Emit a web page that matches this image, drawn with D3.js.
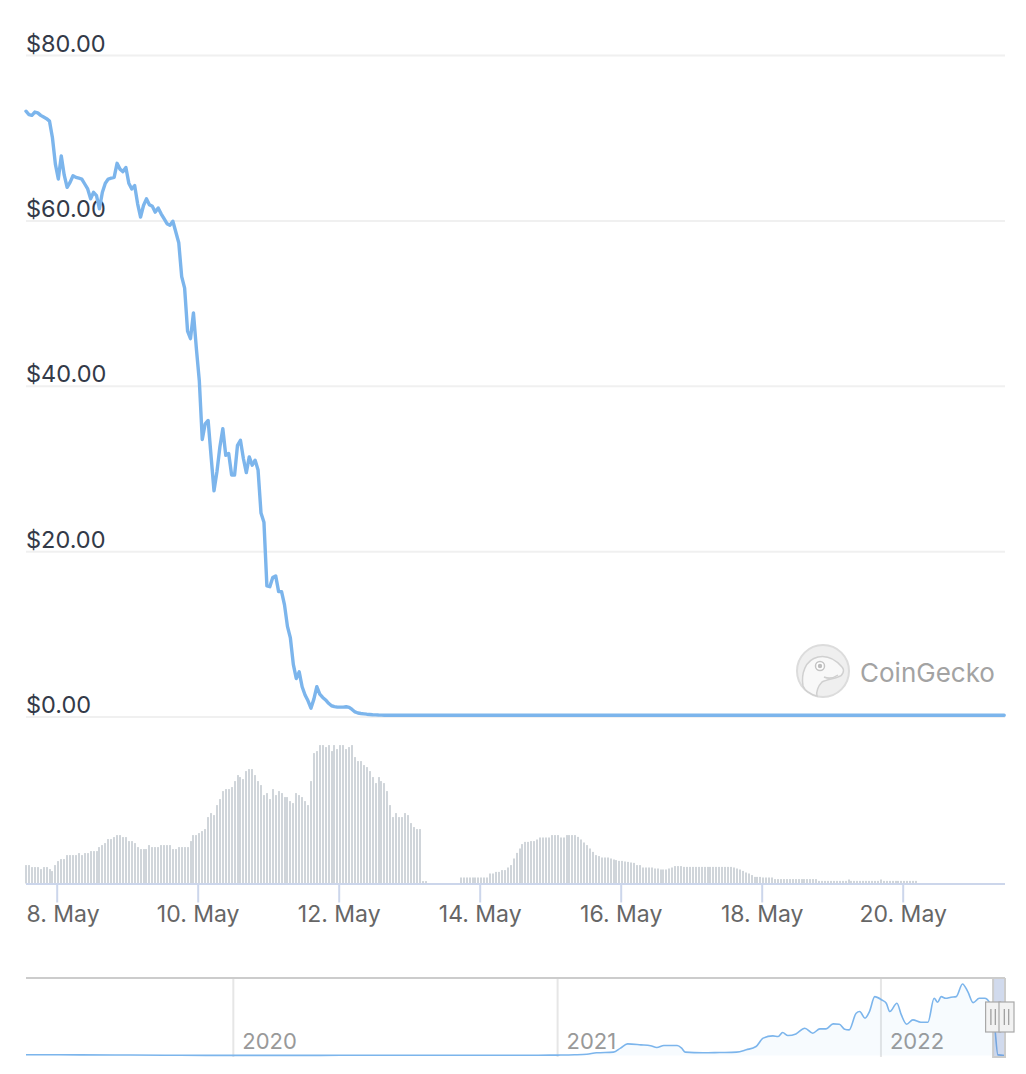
<!DOCTYPE html>
<html><head><meta charset="utf-8">
<script src="https://cdn.jsdelivr.net/npm/d3@7"></script>
<style>
html,body{margin:0;padding:0;background:#fff;}
svg{display:block;font-family:Inter,"Noto Sans",sans-serif;}
</style></head><body>
<svg id="c" width="1026" height="1074"></svg>
<script>
// ---------- DATA ----------
const startTime = "2022-05-07T13:33:00Z"; // first hourly point
const priceUSD = [
73.2,72.8,72.7,73.1,73.0,72.7,72.5,72.3,72.0,70.0,
66.8,65.0,67.8,65.5,64.0,64.6,65.4,65.2,65.1,65.0,
64.4,63.8,62.6,63.4,63.0,61.4,63.4,64.5,65.0,65.1,
65.2,66.9,66.2,65.9,66.4,64.5,63.8,64.2,62.0,60.4,
61.8,62.6,61.9,61.7,61.0,61.5,60.8,60.2,59.6,59.4,
59.9,58.6,57.3,53.2,51.8,46.6,45.7,48.8,44.5,40.6,
33.5,35.4,35.8,31.5,27.3,29.6,32.6,34.8,31.6,31.8,
29.2,29.2,32.8,33.4,31.2,29.5,31.4,30.4,31.0,29.8,
24.6,23.5,15.8,15.7,16.8,17.0,15.1,15.1,13.5,10.9,
9.5,6.3,4.6,5.4,3.6,2.6,1.9,1.0,2.1,3.6,
2.7,2.3,2.0,1.6,1.3,1.2,1.13,1.13,1.13,1.18,
1.1,0.85,0.55,0.42,0.36,0.32,0.28,0.25,0.22,0.2,
0.18,0.17,0.16,0.15,0.15,0.15,0.15,0.15,0.15,0.15,
0.15,0.15,0.15,0.15,0.15,0.15,0.15,0.15,0.15,0.15,
0.15,0.15,0.15,0.15,0.15,0.15,0.15,0.15,0.15,0.15,
0.15,0.15,0.15,0.15,0.15,0.15,0.15,0.15,0.15,0.15,
0.15,0.15,0.15,0.15,0.15,0.15,0.15,0.15,0.15,0.15,
0.15,0.15,0.15,0.15,0.15,0.15,0.15,0.15,0.15,0.15,
0.15,0.15,0.15,0.15,0.15,0.15,0.15,0.15,0.15,0.15,
0.15,0.15,0.15,0.15,0.15,0.15,0.15,0.15,0.15,0.15,
0.15,0.15,0.15,0.15,0.15,0.15,0.15,0.15,0.15,0.15,
0.15,0.15,0.15,0.15,0.15,0.15,0.15,0.15,0.15,0.15,
0.15,0.15,0.15,0.15,0.15,0.15,0.15,0.15,0.15,0.15,
0.15,0.15,0.15,0.15,0.15,0.15,0.15,0.15,0.15,0.15,
0.15,0.15,0.15,0.15,0.15,0.15,0.15,0.15,0.15,0.15,
0.15,0.15,0.15,0.15,0.15,0.15,0.15,0.15,0.15,0.15,
0.15,0.15,0.15,0.15,0.15,0.15,0.15,0.15,0.15,0.15,
0.15,0.15,0.15,0.15,0.15,0.15,0.15,0.15,0.15,0.15,
0.15,0.15,0.15,0.15,0.15,0.15,0.15,0.15,0.15,0.15,
0.15,0.15,0.15,0.15,0.15,0.15,0.15,0.15,0.15,0.15,
0.15,0.15,0.15,0.15,0.15,0.15,0.15,0.15,0.15,0.15,
0.15,0.15,0.15,0.15,0.15,0.15,0.15,0.15,0.15,0.15,
0.15,0.15,0.15,0.15,0.15,0.15,0.15,0.15,0.15,0.15,
0.15,0.15,0.15,0.15
];
// 24h volume, billions USD (hourly)
const volumeBUSD = [
0.92,0.92,0.82,0.82,0.82,0.72,0.82,0.82,0.72,0.62,
0.92,1.12,1.22,1.22,1.42,1.42,1.42,1.42,1.52,1.42,
1.52,1.52,1.62,1.62,1.62,1.82,1.92,2.02,2.22,2.22,
2.32,2.42,2.42,2.32,2.32,2.12,2.12,2.02,1.82,1.72,
1.72,1.72,1.92,1.82,1.82,1.82,1.92,1.92,1.92,1.92,
1.72,1.72,1.82,1.82,1.82,1.82,2.12,2.42,2.42,2.52,
2.62,2.72,3.32,3.52,3.42,3.92,4.22,
4.62,4.72,4.72,4.82,5.12,5.42,5.32,5.22,5.62,5.72,
5.72,5.42,5.12,4.92,4.42,4.52,4.22,4.72,4.42,4.62,
4.52,4.32,4.32,4.12,4.02,4.52,4.42,4.32,4.12,3.92,
5.12,6.52,6.62,6.92,6.92,6.82,6.92,6.62,6.92,6.72,
6.92,6.92,6.72,6.82,6.92,6.32,6.12,6.12,5.92,5.82,5.62,5.32,
5.02,5.32,5.12,5.02,4.62,3.92,3.32,3.52,3.32,3.32,
3.52,3.42,3.02,2.82,2.72,2.72,0.12,0.12,
0,0,0,0,0,0,0,0,0,0,0,
0.3,0.3,0.3,0.3,0.3,0.3,0.3,0.3,0.3,0.3,
0.5,0.5,0.58,0.58,0.67,0.67,
0.8,0.92,1.25,1.53,1.75,1.97,2.08,2.08,
2.12,2.12,2.2,2.3,2.3,2.3,2.3,
2.42,2.42,2.42,2.3,2.3,2.42,2.42,2.42,2.42,2.33,
2.2,2.05,1.92,1.75,1.58,1.42,1.37,
1.3,1.3,1.3,1.25,1.2,1.17,
1.13,1.13,1.1,1.08,1.05,1.03,0.92,0.92,
0.8,0.8,0.8,0.8,0.75,0.75,0.7,0.7,0.7,0.75,0.8,0.87,0.87,0.87,
0.83,0.83,0.83,0.83,0.83,0.83,0.83,0.83,0.83,0.83,0.83,0.83,0.83,0.83,0.83,0.83,0.83,
0.8,0.75,
0.7,0.63,0.55,0.5,0.42,
0.33,0.33,0.33,0.3,0.3,0.3,0.3,
0.22,0.22,0.22,0.22,0.22,0.22,0.22,0.22,0.22,0.22,0.22,0.22,0.22,0.22,0.22,
0.13,0.13,0.13,0.13,0.13,0.13,0.13,0.13,0.13,0.13,0.2,0.13,0.13,0.13,0.13,0.13,0.13,
0.13,0.13,0.13,0.13,0.2,0.13,0.13,0.13,0.13,0.13,0.13,0.13,0.13,0.13,0.13,0.13,0.13
];
const priceTicks = [0, 20, 40, 60, 80];
const dateTicks = ["2022-05-08","2022-05-10","2022-05-12","2022-05-14","2022-05-16","2022-05-18","2022-05-20"];
const navDates = ["2019-05-12","2019-06-15","2019-07-12","2019-08-20","2019-09-07","2019-10-15","2019-11-02","2019-12-01",
"2020-01-01","2020-03-17","2020-05-01","2020-07-08","2020-09-01","2020-10-29","2020-12-10",
"2021-01-01","2021-01-20","2021-02-03","2021-02-14","2021-03-05","2021-03-13","2021-03-21","2021-04-05","2021-04-16",
"2021-04-23","2021-05-01","2021-05-16","2021-05-21","2021-05-25","2021-06-14","2021-07-03","2021-07-22","2021-08-02",
"2021-08-13","2021-08-21","2021-09-01","2021-09-07","2021-09-12","2021-09-18","2021-09-27","2021-10-07","2021-10-16",
"2021-10-24","2021-10-31","2021-11-08","2021-11-15","2021-11-21","2021-11-26","2021-12-04","2021-12-08","2021-12-14",
"2021-12-19","2021-12-25","2022-01-02","2022-01-07","2022-01-11","2022-01-19","2022-01-24","2022-01-30","2022-02-06",
"2022-02-15","2022-02-23","2022-03-02","2022-03-06","2022-03-10","2022-03-15","2022-03-21","2022-03-27","2022-04-03",
"2022-04-09","2022-04-15","2022-04-22","2022-04-28","2022-05-04","2022-05-09","2022-05-13","2022-05-21"];
const navPrices = [1.3,1.2,1.0,0.9,0.9,0.5,0.35,0.25,
0.22,0.2,0.3,0.3,0.4,0.3,0.5,
0.7,1.2,2.2,4.5,5.6,12.3,19.5,17.8,16.2,
13.4,16.7,16.7,12.3,5.6,4.5,5.0,5.6,9.5,
15,29,32.8,31.7,38.4,33.4,36.1,45.6,37.3,
44.5,44.5,52.8,52.3,43.9,42.8,70.6,73.4,62.3,
73.4,98.4,92.8,87.3,73.4,87.3,67.8,52.3,59.5,
55.6,55.6,95.6,89,98.4,95.6,97.3,98.4,119.5,
106.7,88.4,95.6,95.6,87.3,54,1,0.0];
const navYearTicks = ["2020-01-01","2021-01-01","2022-01-01"];
const watermarkText = "CoinGecko";

// ---------- CHART ----------
const svg = d3.select("#c");
svg.append("rect").attr("width",1026).attr("height",1074).attr("fill","#fff");

const t0 = new Date(startTime);
const times = priceUSD.map((_, i) => d3.utcHour.offset(t0, i));
const tEnd = times[times.length - 1];

const x = d3.scaleUtc().domain([t0, tEnd]).range([26, 1004.2]);
const y = d3.scaleLinear().domain([0, 80]).range([716.5, 55]);
const yv = d3.scaleLinear().domain([0, 7]).range([883.5, 743.5]);

// price grid + labels
const yAxis = svg.append("g").attr("transform","translate(26,0)")
  .call(d3.axisRight(y).tickValues(priceTicks).tickSize(979).tickFormat(d => d3.format("$,.2f")(d)));
yAxis.select(".domain").remove();
yAxis.selectAll(".tick line").attr("stroke","#f0f0f0").attr("stroke-width",2);
yAxis.selectAll(".tick text").attr("x",0).attr("dy","-4").attr("text-anchor","start")
  .attr("fill","#333a48").attr("font-size","23.5px").attr("font-family","Inter, 'Noto Sans', sans-serif");

// watermark
const wm = svg.append("g");
wm.append("circle").attr("cx",823).attr("cy",671).attr("r",26).attr("fill","#efefef").attr("stroke","#dcdcdc").attr("stroke-width",2);
wm.append("path").attr("d","M803,686 C801,674 805,660 818,657 C828,655 836,660 842,667 C845,670 843,676 838,677 C832,679 826,680 822,682 C818,686 816,692 817,696 C810,694 805,691 803,686 Z")
  .attr("fill","#f8f8f8").attr("stroke","#d0d0d0").attr("stroke-width",1.5);
wm.append("circle").attr("cx",820).attr("cy",666).attr("r",4.5).attr("fill","#fff").attr("stroke","#c4c4c4").attr("stroke-width",1.5);
wm.append("circle").attr("cx",820).attr("cy",666).attr("r",2.2).attr("fill","#bdbdbd");
wm.append("path").attr("d","M824,677 Q831,680 838,675").attr("fill","none").attr("stroke","#cfcfcf").attr("stroke-width",1.5);
wm.append("text").attr("x",860).attr("y",682).attr("font-size","26px").attr("fill","#a3a3a3").text(watermarkText);

// price line
svg.append("path").datum(priceUSD)
  .attr("fill","none").attr("stroke","#7cb5ec").attr("stroke-width",3.4)
  .attr("stroke-linejoin","round").attr("stroke-linecap","round")
  .attr("d", d3.line().x((d,i) => x(times[i])).y(d => y(d)));

// volume bars
svg.append("g").selectAll("rect")
  .data(volumeBUSD.map((v,i) => ({t: times[i], v})).filter(d => d.v > 0))
  .join("rect")
  .attr("x", d => Math.round(x(d.t)) - 1).attr("width", 2)
  .attr("y", d => yv(d.v)).attr("height", d => yv(0) - yv(d.v))
  .attr("fill","#d0d5da");

// date axis
const xAxis = svg.append("g").attr("transform", `translate(0,${yv(0)})`)
  .call(d3.axisBottom(x).tickValues(dateTicks.map(d => new Date(d + "T00:00:00Z")))
    .tickSize(19).tickSizeOuter(0).tickPadding(3).tickFormat(d3.utcFormat("%-d. %b")));
xAxis.select(".domain").attr("stroke","#ccd6eb").attr("stroke-width",2).attr("d","M26,0.5H1005");
xAxis.selectAll(".tick line").attr("stroke","#ccd6eb").attr("stroke-width",2);
xAxis.selectAll(".tick text").attr("fill","#666").attr("font-size","23px").attr("font-family","Inter, 'Noto Sans', sans-serif");
// keep labels inside the plot area (like Highcharts overflow justify)
xAxis.selectAll(".tick").each(function(d){
  const txt = d3.select(this).select("text");
  const w = txt.node().getComputedTextLength();
  const left = x(d) - w / 2;
  if (left < 26) txt.attr("x", 26 - left);
});

// ---------- NAVIGATOR ----------
const navT = navDates.map(d => new Date(d + "T00:00:00Z"));
const nx = d3.scaleUtc().domain([navT[0], navT[navT.length-1]]).range([26, 1005]);
const ny = d3.scaleLinear().domain([0, 130]).range([1055.5, 977.7]);
const nav = svg.append("g");

const yrs = navYearTicks.map(d => new Date(d + "T00:00:00Z"));
nav.selectAll("line.yr").data(yrs).join("line")
  .attr("x1", d => nx(d)).attr("x2", d => nx(d)).attr("y1", 978).attr("y2", 1057)
  .attr("stroke","#e6e6e6").attr("stroke-width",2);
nav.selectAll("text.yr").data(yrs).join("text")
  .attr("x", d => nx(d) + 9).attr("y", 1049)
  .attr("fill","#999").attr("font-size","22px").text(d3.utcFormat("%Y"));

nav.append("path").datum(navPrices)
  .attr("fill","rgba(124,181,236,0.06)")
  .attr("d", d3.area().x((d,i) => nx(navT[i])).y0(ny(0)).y1(d => ny(d)).curve(d3.curveMonotoneX));
nav.append("path").datum(navPrices)
  .attr("fill","none").attr("stroke","#7cb5ec").attr("stroke-width",1.6)
  .attr("d", d3.line().x((d,i) => nx(navT[i])).y(d => ny(d)).curve(d3.curveMonotoneX));

// selection mask
const mx0 = nx(t0), mx1 = 1005;
nav.append("rect").attr("x", mx0).attr("y", 978).attr("width", mx1 - mx0).attr("height", 79)
  .attr("fill","rgba(102,133,194,0.3)");
nav.append("path").attr("fill","none").attr("stroke","#cccccc").attr("stroke-width",2)
  .attr("d", `M26,978H${mx1}M${mx0},978V1057H${mx1}V978`);

function handle(cx){
  const h = nav.append("g");
  h.append("rect").attr("x", cx - 7.5).attr("y", 1002).attr("width", 15).attr("height", 30)
    .attr("fill","#f2f2f2").attr("stroke","#a8a8a8").attr("stroke-width",1.2);
  [-2.2, 2.2].forEach(o => h.append("line").attr("x1", cx + o).attr("x2", cx + o)
    .attr("y1", 1009).attr("y2", 1025).attr("stroke","#999").attr("stroke-width",1.2));
}
handle(mx0);
handle(mx1 + 1.5);
</script>
</body></html>
